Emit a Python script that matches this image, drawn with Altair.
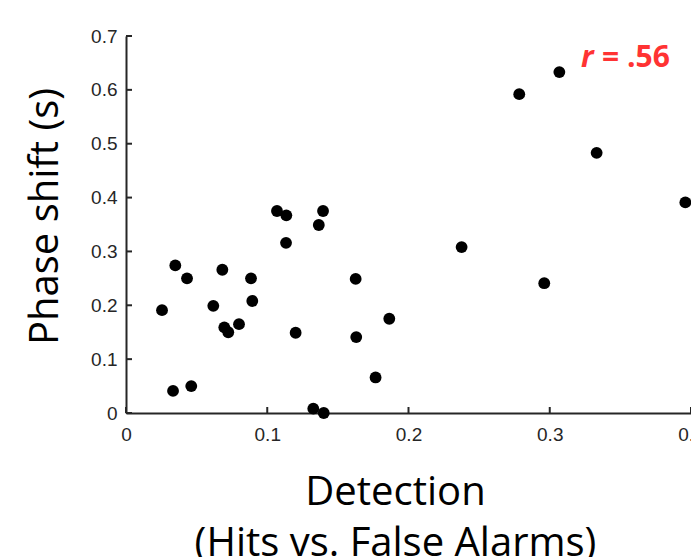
import altair as alt
import pandas as pd

# Data
detection = [0.0255, 0.0349, 0.0333, 0.0432, 0.0462, 0.0618, 0.0682, 0.0696, 0.0724, 0.0800,
             0.0885, 0.0894, 0.1069, 0.1135, 0.1133, 0.1201, 0.1326, 0.1365, 0.1395, 0.1400,
             0.1626, 0.1630, 0.1767, 0.1864, 0.2376, 0.2784, 0.2961, 0.3068, 0.3332, 0.3960]
phase_shift = [0.191, 0.274, 0.041, 0.250, 0.050, 0.199, 0.266, 0.159, 0.150, 0.165,
               0.250, 0.208, 0.375, 0.367, 0.316, 0.149, 0.008, 0.349, 0.375, 0.000,
               0.249, 0.141, 0.066, 0.175, 0.308, 0.592, 0.241, 0.633, 0.483, 0.391]

x_ticks = [0, 0.1, 0.2, 0.3, 0.4]
y_ticks = [0, 0.1, 0.2, 0.3, 0.4, 0.5, 0.6, 0.7]

r_x = [0.3221]
r_y = [0.6424]
r_text = ["r"]
val_x = [0.3370]
val_y = [0.6424]
val_text = ["= .56"]

W, H = 565, 377
AX = "#262626"

df = pd.DataFrame({"detection": detection, "phase": phase_shift})
xt = pd.DataFrame({"detection": x_ticks})
yt = pd.DataFrame({"phase": y_ticks})
an_r = pd.DataFrame({"detection": r_x, "phase": r_y, "t": r_text})
an_v = pd.DataFrame({"detection": val_x, "phase": val_y, "t": val_text})

x_scale = alt.Scale(domain=[0, 0.4], nice=False, zero=False)
y_scale = alt.Scale(domain=[0, 0.7], nice=False, zero=False)

label_expr = "datum.value == 0 ? '0' : format(datum.value, '.1f')"

x_axis = alt.Axis(
    values=x_ticks, labelExpr=label_expr, grid=False, ticks=False,
    domainColor=AX, domainWidth=2, labelColor=AX, labelFont="Liberation Sans",
    labelFontSize=19, labelPadding=12, labelFlush=False, labelOverlap=False,
    title=["Detection", "(Hits vs. False Alarms)"], titleFont="Open Sans",
    titleFontSize=40, titleFontWeight="normal", titleColor="black",
    titleAlign="center", titleBaseline="alphabetic", titleLineHeight=51,
    titleX=269, titleY=91,
)
y_axis = alt.Axis(
    values=y_ticks, labelExpr=label_expr, grid=False, ticks=False,
    domainColor=AX, domainWidth=2, labelColor=AX, labelFont="Liberation Sans",
    labelFontSize=19, labelPadding=9, labelFlush=False, labelOverlap=False,
    title="Phase shift (s)", titleFont="Open Sans",
    titleFontSize=40, titleFontWeight="normal", titleColor="black",
    titleAngle=270, titleAlign="center", titleBaseline="alphabetic",
    titleX=-69, titleY=180,
)

X = alt.X("detection:Q", scale=x_scale, axis=x_axis)
Y = alt.Y("phase:Q", scale=y_scale, axis=y_axis)

points = alt.Chart(df).mark_circle(size=140, color="black", opacity=1, clip=False).encode(
    x=X, y=Y,
)
xticks = alt.Chart(xt).mark_rule(color=AX, strokeWidth=2).encode(
    x=X, y=alt.value(H), y2=alt.value(H - 6)
)
yticks = alt.Chart(yt).mark_rule(color=AX, strokeWidth=2).encode(
    y=Y, x=alt.value(0), x2=alt.value(6)
)


def annot(d, style):
    return alt.Chart(d).mark_text(
        color="#FF3333", font="Open Sans", fontSize=30, fontWeight="bold",
        fontStyle=style, align="left", baseline="alphabetic",
    ).encode(x=X, y=Y, text="t:N")


chart = alt.layer(points, xticks, yticks, annot(an_r, "italic"), annot(an_v, "normal")).properties(
    width=W, height=H,
    autosize=alt.AutoSizeParams(type="none"),
    padding={"left": 118, "top": 28, "right": 0, "bottom": 144},
    background="white",
).configure_view(stroke=None)

chart.save("out.html", embed_options={"renderer": "svg", "actions": False})
